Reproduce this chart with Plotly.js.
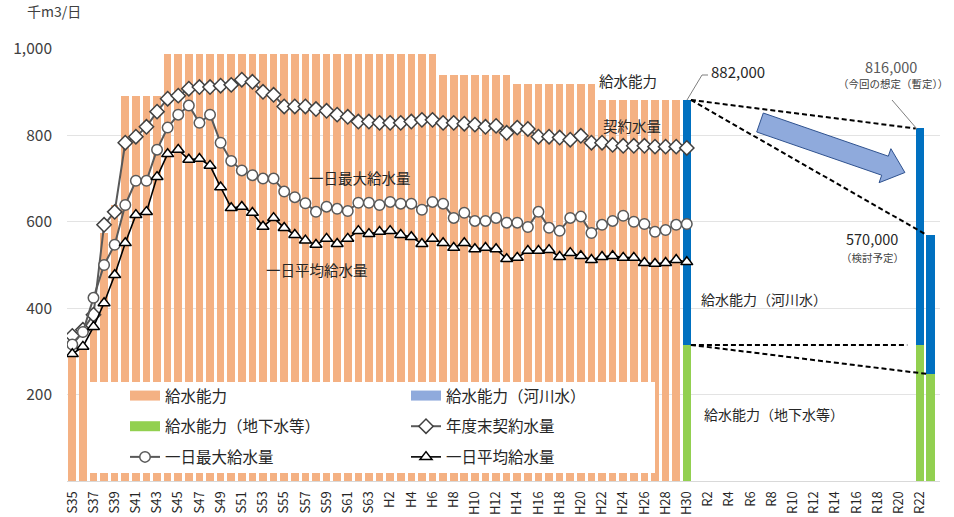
<!DOCTYPE html>
<html><head><meta charset="utf-8">
<script src="https://cdn.plot.ly/plotly-3.0.1.min.js"></script>
<style>html,body{margin:0;padding:0;background:#fff}#chart{width:954px;height:517px}</style>
</head><body><div id="chart"></div>
<script>
// ---- data ----
const categories = [
 "S35","S36","S37","S38","S39","S40","S41","S42","S43","S44","S45","S46","S47","S48","S49","S50","S51","S52","S53","S54","S55","S56","S57","S58","S59","S60","S61","S62","S63",
 "H1","H2","H3","H4","H5","H6","H7","H8","H9","H10","H11","H12","H13","H14","H15","H16","H17","H18","H19","H20","H21","H22","H23","H24","H25","H26","H27","H28","H29","H30",
 "R1","R2","R3","R4","R5","R6","R7","R8","R9","R10","R11","R12","R13","R14","R15","R16","R17","R18","R19","R20","R21","R22","R23"];
const histCats = categories.slice(0, 58);           // S35..H29
const capacity = [287,303,360,574,640,892,892,892,892,
 988,988,988,988,988,988,988,988,988,988,988,988,988,988,988,988,988,988,988,988,988,988,988,988,988,988,
 940,940,940,940,940,940,940,
 920,920,920,920,920,920,920,920,
 882,882,882,882,882,882,882,882];
const futureCats = ["H30","R22","R23"];
const futureTotal = [882,816,570];
const futureGround = [315,315,248];
const lineCats = categories.slice(0, 59);           // S35..H30
const contract = [336,350,385,593,623,783,797,820,855,885,892,908,912,912,915,917,929,924,901,894,867,867,867,861,857,848,843,832,832,829,829,829,832,836,836,829,829,827,825,820,822,806,818,815,797,797,795,790,799,783,783,778,776,776,776,774,774,774,771];
const maxDaily = [316,345,424,500,547,639,695,695,767,818,848,869,829,848,783,741,719,708,700,700,670,657,643,623,635,630,625,644,644,639,646,642,642,628,646,642,609,621,602,602,609,598,598,588,623,586,579,609,612,574,593,602,614,600,595,577,581,593,595];
const avgDaily = [294,311,357,412,477,551,616,623,704,757,767,744,746,730,680,632,635,621,589,609,586,570,557,547,561,549,561,579,572,577,579,570,565,549,561,551,540,551,537,540,537,514,517,533,533,535,519,528,521,512,519,521,517,517,505,503,505,512,507];
const tickLabels = categories.filter((c,i)=>i%2===0);
const yTicks = [200,400,600,800,1000];
const yTickText = ["200","400","600","800","1,000"];

// ---- layout helpers ----
const W=954,H=517,M={l:67,r:14,t:49,b:36};
const PW=W-M.l-M.r, PH=H-M.t-M.b;
const px=x=>(x-M.l)/PW, py=y=>(H-M.b-y)/PH;
const FONT='"Noto Sans CJK JP", "Noto Sans", sans-serif';
const ORANGE='#F4B183', BLUE='#0070C0', GREEN='#92D050', LBLUE='#8FAADC';
const futureRiver = futureTotal.map((v,i)=>v-futureGround[i]);
const hw = 0.39;

const traces = [
 {type:'bar', x:histCats, y:capacity, marker:{color:ORANGE}, width:0.72, showlegend:false},
 {type:'bar', x:futureCats, y:futureGround, marker:{color:GREEN}, width:0.78, showlegend:false},
 {type:'bar', x:futureCats, y:futureRiver, marker:{color:BLUE}, width:0.78, showlegend:false},
 {type:'scatter', mode:'lines+markers', x:lineCats, y:contract, name:'年度末契約水量', legend:'legend2', legendgroup:'b2', legendrank:2,
  line:{color:'#595959', width:2}, marker:{symbol:'diamond', size:11, color:'#fff', line:{color:'#404040', width:1.5}}},
 {type:'scatter', mode:'lines+markers', x:lineCats, y:maxDaily, name:'一日最大給水量', legend:'legend', legendgroup:'a3', legendrank:3,
  line:{color:'#595959', width:2}, marker:{symbol:'circle', size:10.5, color:'#fff', line:{color:'#595959', width:1.5}}},
 {type:'scatter', mode:'lines+markers', x:lineCats, y:avgDaily, name:'一日平均給水量', legend:'legend2', legendgroup:'b3', legendrank:3,
  line:{color:'#000', width:1.6}, marker:{symbol:'triangle-up', size:10.5, color:'#fff', line:{color:'#000', width:1.5}}},
 // legend swatches
 {type:'scatter', mode:'lines', x:[null], y:[null], name:'給水能力', legend:'legend', legendgroup:'a1', legendrank:1, line:{color:ORANGE, width:10}, hoverinfo:'skip'},
 {type:'scatter', mode:'lines', x:[null], y:[null], name:'給水能力（地下水等）', legend:'legend', legendgroup:'a2', legendrank:2, line:{color:GREEN, width:10}, hoverinfo:'skip'},
 {type:'scatter', mode:'lines', x:[null], y:[null], name:'給水能力（河川水）', legend:'legend2', legendgroup:'b1', legendrank:1, line:{color:LBLUE, width:10}, hoverinfo:'skip'}
];

const iH30 = categories.indexOf('H30'), iR22 = categories.indexOf('R22'), iR23 = categories.indexOf('R23');
const dashLine = {color:'#000', width:2, dash:'5px,3px'};
const arrowPts = [[763.3,113],[888.3,156.2],[890.9,148.7],[904.9,172.5],[879.1,182.7],[881.7,175.2],[756.7,132]];
const toPath = pts => 'M' + pts.map(p=>px(p[0]).toFixed(5)+','+py(p[1]).toFixed(5)).join(' L');
const arrowPath = toPath(arrowPts) + ' Z';

const shapes = [
 {type:'rect', xref:'paper', yref:'paper', x0:px(87), x1:px(655), y0:py(473), y1:py(382), fillcolor:'#fff', line:{width:0}, layer:'above'},
 {type:'line', xref:'x', yref:'y', x0:iH30+hw, y0:futureTotal[0], x1:iR22-hw, y1:futureTotal[1], line:dashLine, layer:'above'},
 {type:'line', xref:'x', yref:'y', x0:iH30+hw, y0:futureTotal[0], x1:iR23-hw, y1:futureTotal[2], line:dashLine, layer:'above'},
 {type:'line', xref:'x', yref:'y', x0:iH30+hw, y0:futureGround[0], x1:iR22-hw-0.8, y1:futureGround[1], line:dashLine, layer:'above'},
 {type:'line', xref:'x', yref:'y', x0:iH30+hw, y0:futureGround[0], x1:iR23-hw, y1:futureGround[2], line:dashLine, layer:'above'},
 {type:'path', xref:'paper', yref:'paper', path:arrowPath, fillcolor:LBLUE, line:{color:'#2F528F', width:1}, layer:'above'},
 {type:'path', xref:'paper', yref:'paper', path:toPath([[687,100],[702,75],[708,75]]), line:{color:'#7f7f7f', width:1}, layer:'above'},
 {type:'path', xref:'paper', yref:'paper', path:toPath([[917,129],[892,100]]), line:{color:'#7f7f7f', width:1}, layer:'above'}
];

const ann = (text,x,y,opt={}) => Object.assign({text, xref:'paper', yref:'paper', x:px(x), y:py(y), xanchor:'left', yanchor:'middle', showarrow:false,
  font:{family:FONT, size:14.5, color:'#262626'}}, opt);
const annotations = [
 ann('千m3/日', 25, 11, {font:{family:FONT,size:14,color:'#404040'}}),
 ann('給水能力', 597, 80),
 ann('契約水量', 601, 126),
 ann('一日最大給水量', 307, 177),
 ann('一日平均給水量', 264, 269),
 ann('882,000', 709, 72, {font:{family:FONT,size:15,color:'#262626'}}),
 ann('816,000', 891, 66, {xanchor:'center', font:{family:FONT,size:14.5,color:'#595959'}}),
 ann('（今回の想定（暫定））', 893, 84, {xanchor:'center', font:{family:FONT,size:10.5,color:'#404040'}}),
 ann('570,000', 872, 239, {xanchor:'center', font:{family:FONT,size:14.5,color:'#262626'}}),
 ann('（検討予定）', 872, 257, {xanchor:'center', font:{family:FONT,size:10.5,color:'#404040'}}),
 ann('給水能力（河川水）', 699, 299, {font:{family:FONT,size:14,color:'#262626'}}),
 ann('給水能力（地下水等）', 702, 414, {font:{family:FONT,size:14,color:'#262626'}})
];

const legendBase = {bgcolor:'rgba(0,0,0,0)', borderwidth:0, font:{family:FONT, size:15.5, color:'#262626'},
  traceorder:'grouped', tracegroupgap:7.5, xanchor:'left', yanchor:'top', itemwidth:30};

const layout = {
 width:W, height:H, margin:M, paper_bgcolor:'#fff', plot_bgcolor:'#fff',
 barmode:'stack', bargap:0.3,
 font:{family:FONT, color:'#262626'},
 xaxis:{type:'category', categoryorder:'array', categoryarray:categories, range:[-0.5, 81.9],
   tickmode:'array', tickvals:tickLabels, ticktext:tickLabels, tickangle:-90, ticks:'',
   tickfont:{family:FONT, size:13, color:'#262626'}, showgrid:false, showline:true, linecolor:'#d9d9d9', linewidth:1,
   zeroline:false, automargin:false, fixedrange:true, ticklabelstandoff:4},
 yaxis:{range:[0,1000], tickmode:'array', tickvals:yTicks, ticktext:yTickText, showgrid:true, gridcolor:'#e3e3e3', gridwidth:1,
   zeroline:false, showline:false, ticks:'', tickfont:{family:FONT, size:15.5, color:'#404040'}, automargin:false, fixedrange:true, ticklabelstandoff:14},
 legend:Object.assign({}, legendBase, {x:px(125), y:py(379)}),
 legend2:Object.assign({}, legendBase, {x:px(406), y:py(379)}),
 shapes, annotations, hovermode:false
};

Plotly.newPlot('chart', traces, layout, {displayModeBar:false, staticPlot:true});
</script>
</body></html>
